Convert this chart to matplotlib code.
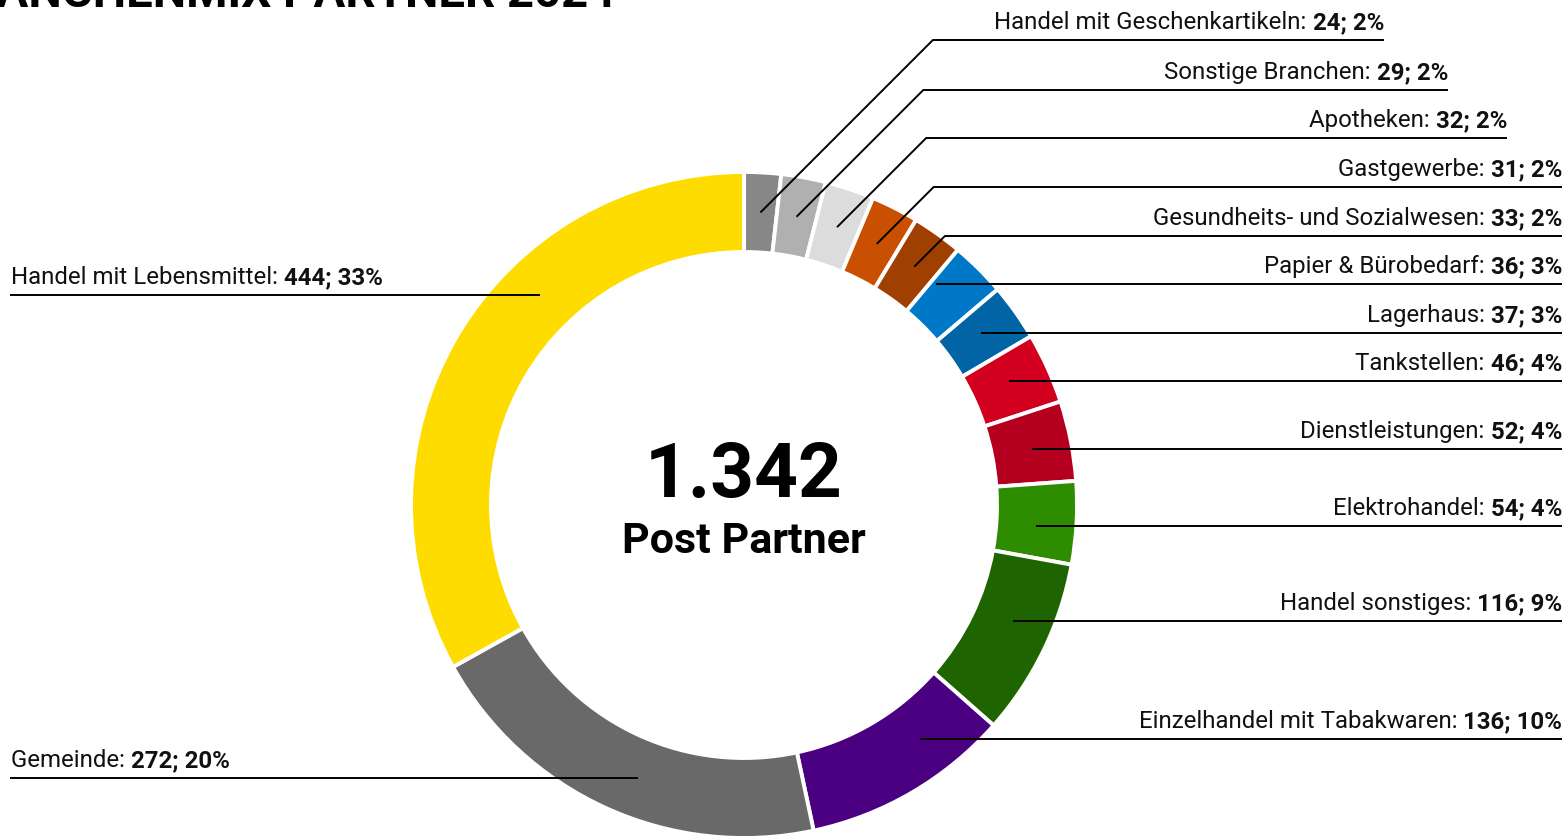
import matplotlib
matplotlib.use("Agg")
import matplotlib.pyplot as plt
import numpy as np

# ---------------- data ----------------
categories = [
    "Handel mit Geschenkartikeln", "Sonstige Branchen", "Apotheken", "Gastgewerbe",
    "Gesundheits- und Sozialwesen", "Papier & Bürobedarf", "Lagerhaus", "Tankstellen",
    "Dienstleistungen", "Elektrohandel", "Handel sonstiges", "Einzelhandel mit Tabakwaren",
    "Gemeinde", "Handel mit Lebensmittel",
]
values = [24, 29, 32, 31, 33, 36, 37, 46, 52, 54, 116, 136, 272, 444]
percents = [2, 2, 2, 2, 2, 3, 3, 4, 4, 4, 9, 10, 20, 33]
colors = ["#878787", "#b0b0b0", "#dcdcdc", "#c85000", "#a04000", "#0078c8", "#0064a5",
          "#d2001e", "#b4001e", "#2d8c00", "#1e6400", "#4b0082", "#696969", "#ffdc00"]
title = "BRANCHENMIX PARTNER 2024"
center_label = "Post Partner"

# ---------------- layout ----------------
W, H = 1568, 836
label_line_y = [40, 90, 138, 187, 236, 284, 333, 381, 449, 526, 621, 739, 778, 295]
label_right_x = [1384, 1448, 1507] + [1562] * 9
diagonal = [True] * 5 + [False] * 9
right_side = [True] * 12 + [False] * 2
FONT = "Roboto"
FS = 17.3

fig = plt.figure(figsize=(W / 100, H / 100), dpi=100)
ax = fig.add_axes([0, 0, 1, 1])

def Y(yp):
    return H - yp

cx, cy = 744, Y(505)
R, RW = 333, 80
ax.pie(values, colors=colors, startangle=90, counterclock=False, radius=R,
       center=(cx, cy), wedgeprops=dict(width=RW, edgecolor="white", linewidth=2.8))
ax.set_xlim(0, W)
ax.set_ylim(0, H)
ax.set_aspect("auto")
ax.axis("off")

total = sum(values)
cum = np.cumsum([0] + values)
rmid = R - RW / 2
renderer = fig.canvas.get_renderer()

for i, name in enumerate(categories):
    yl = Y(label_line_y[i])
    xr = label_right_x[i] if right_side[i] else None
    if diagonal[i]:
        t = np.deg2rad((cum[i] + values[i] / 2) / total * 360)
        axp, ayp = cx + rmid * np.sin(t), cy + rmid * np.cos(t)
        ex = axp + (yl - ayp)
        xs, ys = [axp, ex, xr], [ayp, yl, yl]
    else:
        dy = yl - cy
        dx = np.sqrt(max(rmid ** 2 - dy ** 2, 0))
        if right_side[i]:
            xs, ys = [cx + dx, xr], [yl, yl]
        else:
            xs, ys = [cx - dx, 10], [yl, yl]
    ax.plot(xs, ys, color="black", lw=1.4, solid_capstyle="butt", zorder=5)

    reg = f"{name}: "
    bold = f"{values[i]}; {percents[i]}%"
    ty = yl + 11
    if right_side[i]:
        tb = ax.text(xr, ty, bold, ha="right", va="baseline", fontsize=FS,
                     fontweight="bold", family=FONT, color="#111111")
        bb = tb.get_window_extent(renderer)
        ax.text(bb.x0, ty, reg, ha="right", va="baseline", fontsize=FS,
                family=FONT, color="#111111")
    else:
        tr = ax.text(11, ty, reg, ha="left", va="baseline", fontsize=FS,
                     family=FONT, color="#111111")
        bb = tr.get_window_extent(renderer)
        ax.text(bb.x1, ty, bold, ha="left", va="baseline", fontsize=FS,
                fontweight="bold", family=FONT, color="#111111")

total_str = f"{total:,}".replace(",", ".")
ax.text(cx, Y(497), total_str, ha="center", va="baseline", fontsize=55,
        fontweight="bold", family=FONT, color="black")
ax.text(cx, Y(553), center_label, ha="center", va="baseline", fontsize=31,
        fontweight="bold", family=FONT, color="black")

# title, cut off at the top edge as in the reference
ax.text(615, Y(7), title, ha="right", va="baseline", fontsize=34,
        fontweight="bold", family=FONT, color="black", clip_on=False)

fig.savefig("out.png", dpi=100, facecolor="white")
